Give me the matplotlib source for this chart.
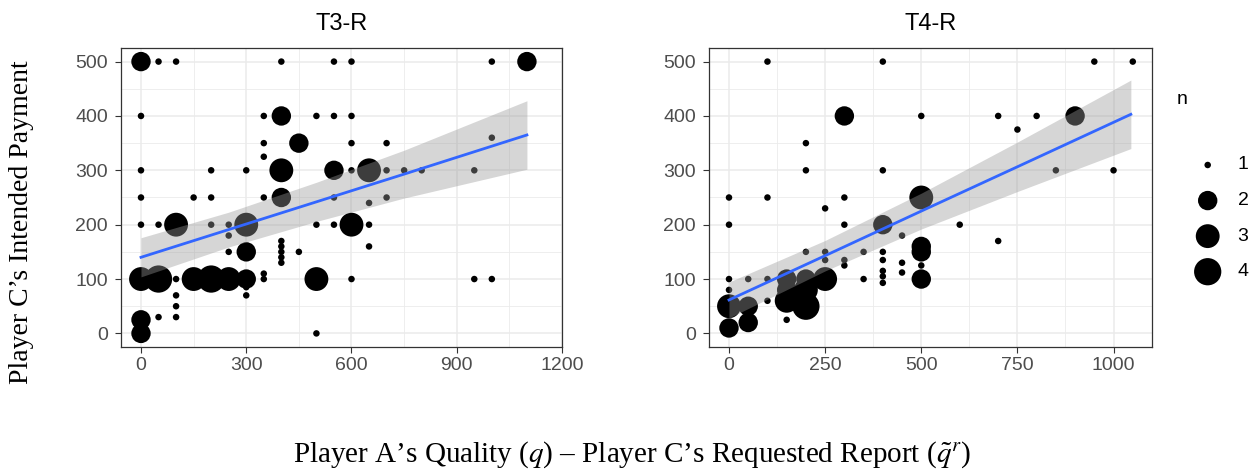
import numpy as np
import matplotlib
matplotlib.use("Agg")
import matplotlib.pyplot as plt
from matplotlib.ticker import MultipleLocator

# Datos panel T3-R (x = calidad/reporte, y = pago, n = cantidad de observaciones)
t3_x = [0, 50, 100, 400, 550, 600, 1000, 1100,
        0, 350, 400, 500, 550, 600,
        350, 450, 600, 700, 350,
        0, 200, 300, 400, 550, 600, 650, 650, 700, 750, 800, 950, 1000,
        0, 150, 200, 350, 400, 550, 700, 650,
        0, 50, 100, 200, 250, 300, 500, 550, 600, 650,
        250, 400, 400, 400, 400, 400, 250, 300, 450, 650,
        0, 50, 100, 150, 200, 250, 300, 350, 350, 500, 600, 950, 1000,
        300, 300, 100, 100, 100, 50, 0, 0, 0, 500]
t3_y = [500, 500, 500, 500, 500, 500, 500, 500,
        400, 400, 400, 400, 400, 400,
        350, 350, 350, 350, 325,
        300, 300, 300, 300, 300, 300, 300, 315, 300, 300, 300, 300, 360,
        250, 250, 250, 250, 250, 250, 250, 240,
        200, 200, 200, 200, 200, 200, 200, 200, 200, 200,
        180, 170, 160, 150, 140, 130, 150, 150, 150, 160,
        100, 100, 100, 100, 100, 100, 100, 110, 100, 100, 100, 100, 100,
        85, 70, 70, 50, 30, 30, 25, 15, 0, 0]
t3_n = [2, 1, 1, 1, 1, 1, 1, 2,
        1, 1, 2, 1, 1, 1,
        1, 2, 1, 1, 1,
        1, 1, 1, 3, 2, 1, 3, 1, 1, 1, 1, 1, 1,
        1, 1, 1, 1, 2, 1, 1, 1,
        1, 1, 3, 1, 1, 3, 1, 1, 3, 1,
        1, 1, 1, 1, 1, 1, 1, 2, 1, 1,
        3, 4, 1, 3, 4, 3, 2, 1, 1, 3, 1, 1, 1,
        1, 1, 1, 1, 1, 1, 2, 1, 2, 1]

# Datos panel T4-R
t4_x = [100, 400, 950, 1050,
        300, 500, 700, 800, 900, 750, 200,
        200, 400, 850, 1000,
        0, 100, 300, 500, 250,
        0, 300, 400, 600, 450, 700,
        500, 500, 500, 500,
        200, 250, 350, 400, 400, 400, 400, 400, 450, 450, 250, 300, 300, 350,
        0, 0, 50, 100, 100,
        0, 0, 50, 50,
        150, 150, 150, 200, 200, 250, 200, 150]
t4_y = [500, 500, 500, 500,
        400, 400, 400, 400, 400, 375, 350,
        300, 300, 300, 300,
        250, 250, 250, 250, 230,
        200, 200, 200, 200, 180, 170,
        160, 150, 125, 100,
        150, 150, 150, 150, 135, 115, 105, 93, 130, 112, 135, 135, 125, 100,
        100, 80, 100, 100, 60,
        50, 10, 50, 20,
        60, 80, 100, 50, 80, 100, 100, 25]
t4_n = [1, 1, 1, 1,
        2, 1, 1, 1, 2, 1, 1,
        1, 1, 1, 1,
        1, 1, 1, 3, 1,
        1, 1, 2, 1, 1, 1,
        2, 2, 1, 2,
        1, 1, 1, 1, 1, 1, 1, 1, 1, 1, 1, 1, 1, 1,
        1, 1, 1, 1, 1,
        3, 2, 2, 2,
        3, 2, 2, 4, 3, 3, 2, 1]

# Recta de regresión y banda de confianza
t3_fit_x = [0, 250, 500, 750, 1100]
t3_fit = [140, 191, 242, 293, 365]
t3_lo = [104, 159, 206, 249, 302]
t3_hi = [176, 223, 278, 337, 428]

t4_fit_x = [0, 250, 500, 750, 1045]
t4_fit = [61.5, 143, 225, 306.5, 403]
t4_lo = [28.5, 115, 192, 261, 340]
t4_hi = [94.5, 171, 258, 352, 466]

legend_n = [1, 2, 3, 4]

size_map = {1: 22, 2: 195, 3: 295, 4: 385}

W, H = 1258, 476
fig = plt.figure(figsize=(W / 100, H / 100), dpi=100)
plt.rcParams['mathtext.fontset'] = 'stix'


def panel(ax, x, y, n, fx, fy, lo, hi, title, xlim, xmajor):
    ax.scatter(x, y, s=[size_map[k] for k in n], c='black', linewidths=0, zorder=2)
    ax.fill_between(fx, lo, hi, color='#999999', alpha=0.4, linewidth=0, zorder=3)
    ax.plot(fx, fy, color='#3366FF', lw=2, zorder=4)
    ax.set_xlim(*xlim)
    ax.set_ylim(-25, 525)
    ax.xaxis.set_major_locator(MultipleLocator(xmajor))
    ax.xaxis.set_minor_locator(MultipleLocator(xmajor / 2))
    ax.yaxis.set_major_locator(MultipleLocator(100))
    ax.yaxis.set_minor_locator(MultipleLocator(50))
    ax.set_axisbelow(True)
    ax.grid(which='major', color='#EBEBEB', lw=1.1)
    ax.grid(which='minor', color='#EBEBEB', lw=0.6)
    for s in ax.spines.values():
        s.set_color('#333333')
        s.set_linewidth(0.9)
    ax.tick_params(which='major', length=4.5, width=0.8, color='#333333',
                   labelcolor='#4D4D4D', labelsize=14, pad=3)
    ax.tick_params(axis='y', pad=5)
    ax.tick_params(which='minor', length=0)
    for lab in ax.get_xticklabels() + ax.get_yticklabels():
        lab.set_family('Liberation Sans')
    ax.set_title(title, fontsize=17, family='Liberation Sans', pad=13)


ax1 = fig.add_axes([121 / W, 1 - 347 / H, 441 / W, 299 / H])
panel(ax1, t3_x, t3_y, t3_n, t3_fit_x, t3_fit, t3_lo, t3_hi, 'T3-R', (-57, 1200), 300)

ax2 = fig.add_axes([709 / W, 1 - 347 / H, 443 / W, 299 / H])
panel(ax2, t4_x, t4_y, t4_n, t4_fit_x, t4_fit, t4_lo, t4_hi, 'T4-R', (-52, 1100), 250)

# Leyenda de tamaños
lax = fig.add_axes([1190 / W, 1 - 290 / H, 60 / W, 145 / H])
lax.scatter([0] * len(legend_n), legend_n, s=[size_map[k] for k in legend_n], c='black', linewidths=0)
for k in legend_n:
    lax.text(30, k, str(k), fontsize=14, va='center', ha='left', family='Liberation Sans')
lax.set_xlim(-17.7, 42.3)
lax.set_ylim(4.514, 0.438)
lax.axis('off')
fig.text(1177 / W, 1 - 100 / H, 'n', fontsize=14, family='Liberation Sans', va='center', ha='left')

# Etiquetas de ejes
fig.text(22 / W, 1 - 222 / H, 'Player C\u2019s Intended Payment', rotation=90, fontsize=20,
         family='Liberation Serif', va='center', ha='center')
fig.text(632 / W, 1 - 455 / H,
         'Player A\u2019s Quality ($q$) \u2013 Player C\u2019s Requested Report ($\\tilde{q}^r$)',
         fontsize=21, family='Liberation Serif', va='center', ha='center')

fig.savefig('out.png', dpi=100)
